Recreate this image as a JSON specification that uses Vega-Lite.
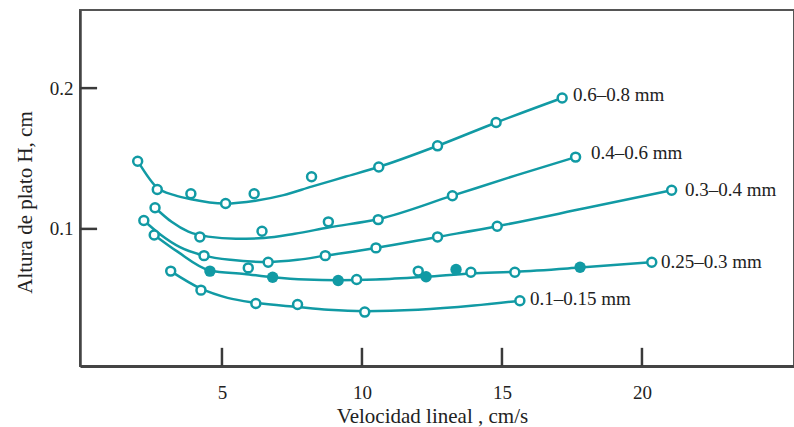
{
  "$schema": "https://vega.github.io/schema/vega-lite/v6.json",
  "width": 714,
  "height": 356,
  "autosize": {"type": "none"},
  "padding": {"left": 80, "top": 10, "right": 0, "bottom": 61},
  "background": "white",
  "config": {"view": {"stroke": "#555", "strokeWidth": 2}, "font": "Liberation Serif"},
  "datasets": {
    "curves": [
      {"s": "a", "x": 2.0, "y": 0.148}, {"s": "a", "x": 2.7, "y": 0.129}, {"s": "a", "x": 3.3, "y": 0.124}, {"s": "a", "x": 3.9, "y": 0.121}, {"s": "a", "x": 5.1, "y": 0.118}, {"s": "a", "x": 6.2, "y": 0.12}, {"s": "a", "x": 7.2, "y": 0.124}, {"s": "a", "x": 8.2, "y": 0.13}, {"s": "a", "x": 9.4, "y": 0.137}, {"s": "a", "x": 10.6, "y": 0.144}, {"s": "a", "x": 12.7, "y": 0.159}, {"s": "a", "x": 14.8, "y": 0.1756}, {"s": "a", "x": 17.15, "y": 0.193},
      {"s": "b", "x": 2.61, "y": 0.115}, {"s": "b", "x": 3.2, "y": 0.105}, {"s": "b", "x": 3.8, "y": 0.098}, {"s": "b", "x": 4.5, "y": 0.0945}, {"s": "b", "x": 5.5, "y": 0.093}, {"s": "b", "x": 6.5, "y": 0.0935}, {"s": "b", "x": 7.6, "y": 0.0965}, {"s": "b", "x": 8.8, "y": 0.101}, {"s": "b", "x": 10.6, "y": 0.107}, {"s": "b", "x": 13.23, "y": 0.1236}, {"s": "b", "x": 15.5, "y": 0.138}, {"s": "b", "x": 17.63, "y": 0.151},
      {"s": "c", "x": 2.21, "y": 0.106}, {"s": "c", "x": 2.8, "y": 0.096}, {"s": "c", "x": 3.5, "y": 0.087}, {"s": "c", "x": 4.36, "y": 0.081}, {"s": "c", "x": 5.3, "y": 0.078}, {"s": "c", "x": 6.65, "y": 0.0765}, {"s": "c", "x": 7.7, "y": 0.078}, {"s": "c", "x": 8.69, "y": 0.081}, {"s": "c", "x": 10.5, "y": 0.0865}, {"s": "c", "x": 12.7, "y": 0.0943}, {"s": "c", "x": 14.83, "y": 0.1019}, {"s": "c", "x": 18.0, "y": 0.1148}, {"s": "c", "x": 21.06, "y": 0.1274},
      {"s": "d", "x": 2.58, "y": 0.0957}, {"s": "d", "x": 3.4, "y": 0.084}, {"s": "d", "x": 4.57, "y": 0.0705}, {"s": "d", "x": 5.8, "y": 0.068}, {"s": "d", "x": 6.81, "y": 0.0657}, {"s": "d", "x": 8.0, "y": 0.064}, {"s": "d", "x": 9.15, "y": 0.0635}, {"s": "d", "x": 10.5, "y": 0.064}, {"s": "d", "x": 12.3, "y": 0.066}, {"s": "d", "x": 13.9, "y": 0.0683}, {"s": "d", "x": 15.46, "y": 0.0695}, {"s": "d", "x": 17.79, "y": 0.0725}, {"s": "d", "x": 20.35, "y": 0.0763},
      {"s": "e", "x": 3.17, "y": 0.07}, {"s": "e", "x": 4.25, "y": 0.0575}, {"s": "e", "x": 5.2, "y": 0.051}, {"s": "e", "x": 6.21, "y": 0.0475}, {"s": "e", "x": 7.7, "y": 0.0445}, {"s": "e", "x": 8.8, "y": 0.0425}, {"s": "e", "x": 10.1, "y": 0.0415}, {"s": "e", "x": 12.0, "y": 0.0425}, {"s": "e", "x": 14.0, "y": 0.0455}, {"s": "e", "x": 15.64, "y": 0.049}
    ],
    "points": [
      {"s": "a", "x": 1.99, "y": 0.148, "f": "open"}, {"s": "a", "x": 2.69, "y": 0.128, "f": "open"}, {"s": "a", "x": 3.89, "y": 0.125, "f": "open"}, {"s": "a", "x": 5.13, "y": 0.118, "f": "open"}, {"s": "a", "x": 6.15, "y": 0.125, "f": "open"}, {"s": "a", "x": 8.2, "y": 0.137, "f": "open"}, {"s": "a", "x": 10.6, "y": 0.144, "f": "open"}, {"s": "a", "x": 12.7, "y": 0.159, "f": "open"}, {"s": "a", "x": 14.79, "y": 0.1756, "f": "open"}, {"s": "a", "x": 17.15, "y": 0.193, "f": "open"},
      {"s": "b", "x": 2.61, "y": 0.115, "f": "open"}, {"s": "b", "x": 4.21, "y": 0.0943, "f": "open"}, {"s": "b", "x": 6.43, "y": 0.0983, "f": "open"}, {"s": "b", "x": 8.8, "y": 0.105, "f": "open"}, {"s": "b", "x": 10.58, "y": 0.1066, "f": "open"}, {"s": "b", "x": 13.23, "y": 0.1236, "f": "open"}, {"s": "b", "x": 17.63, "y": 0.151, "f": "open"},
      {"s": "c", "x": 2.21, "y": 0.106, "f": "open"}, {"s": "c", "x": 4.36, "y": 0.081, "f": "open"}, {"s": "c", "x": 6.65, "y": 0.0763, "f": "open"}, {"s": "c", "x": 8.69, "y": 0.081, "f": "open"}, {"s": "c", "x": 10.5, "y": 0.0865, "f": "open"}, {"s": "c", "x": 12.7, "y": 0.0943, "f": "open"}, {"s": "c", "x": 14.83, "y": 0.1019, "f": "open"}, {"s": "c", "x": 21.06, "y": 0.1274, "f": "open"},
      {"s": "d", "x": 2.58, "y": 0.0957, "f": "open"}, {"s": "d", "x": 4.57, "y": 0.07, "f": "filled"}, {"s": "d", "x": 5.94, "y": 0.0723, "f": "open"}, {"s": "d", "x": 6.81, "y": 0.0657, "f": "filled"}, {"s": "d", "x": 9.15, "y": 0.0633, "f": "filled"}, {"s": "d", "x": 9.81, "y": 0.064, "f": "open"}, {"s": "d", "x": 12.01, "y": 0.07, "f": "open"}, {"s": "d", "x": 12.29, "y": 0.066, "f": "filled"}, {"s": "d", "x": 13.36, "y": 0.0711, "f": "filled"}, {"s": "d", "x": 13.89, "y": 0.0692, "f": "open"}, {"s": "d", "x": 15.46, "y": 0.0692, "f": "open"}, {"s": "d", "x": 17.79, "y": 0.0728, "f": "filled"}, {"s": "d", "x": 20.35, "y": 0.0763, "f": "open"},
      {"s": "e", "x": 3.17, "y": 0.07, "f": "open"}, {"s": "e", "x": 4.25, "y": 0.0565, "f": "open"}, {"s": "e", "x": 6.21, "y": 0.047, "f": "open"}, {"s": "e", "x": 7.7, "y": 0.0463, "f": "open"}, {"s": "e", "x": 10.1, "y": 0.0409, "f": "open"}, {"s": "e", "x": 15.64, "y": 0.049, "f": "open"}
    ],
    "labels": [
      {"x": 17.54, "y": 0.1952, "label": "0.6–0.8 mm"},
      {"x": 18.18, "y": 0.1541, "label": "0.4–0.6 mm"},
      {"x": 21.54, "y": 0.1279, "label": "0.3–0.4 mm"},
      {"x": 20.68, "y": 0.0768, "label": "0.25–0.3 mm"},
      {"x": 16.0, "y": 0.0499, "label": "0.1–0.15 mm"}
    ],
    "tickx": [{"tv": 5}, {"tv": 10}, {"tv": 15}, {"tv": 20}],
    "ticky": [{"tv": 0.1}, {"tv": 0.2}]
  },
  "layer": [
    {
      "data": {"name": "curves"},
      "mark": {"type": "line", "interpolate": "monotone", "color": "#119aa4", "strokeWidth": 2.5},
      "encoding": {
        "x": {
          "field": "x", "type": "quantitative",
          "scale": {"domain": [-0.07, 25.43], "nice": false, "zero": false},
          "axis": {
            "values": [5, 10, 15, 20], "grid": false, "title": "Velocidad lineal , cm/s",
            "ticks": false, "labelPadding": 17,
            "domainWidth": 3, "domainColor": "#444",
            "labelFont": "Liberation Serif", "labelFontSize": 19, "labelColor": "#222",
            "titleFont": "Liberation Serif", "titleFontSize": 21, "titleFontWeight": "normal", "titleColor": "#222",
            "titleX": 352, "titleY": 56, "titleBaseline": "alphabetic", "titleAlign": "center"
          }
        },
        "y": {
          "field": "y", "type": "quantitative",
          "scale": {"domain": [0.0026, 0.2555], "nice": false, "zero": false},
          "axis": {
            "values": [0.1, 0.2], "format": ".1f", "grid": false, "title": "Altura de plato  H, cm",
            "ticks": false, "labelPadding": 7,
            "domainWidth": 2.5, "domainColor": "#444",
            "labelFont": "Liberation Serif", "labelFontSize": 19, "labelColor": "#222",
            "titleFont": "Liberation Serif", "titleFontSize": 21, "titleFontWeight": "normal", "titleColor": "#222",
            "titleX": -49, "titleY": 192, "titleBaseline": "alphabetic", "titleAlign": "center", "titleAngle": -90
          }
        },
        "detail": {"field": "s", "type": "nominal"}
      }
    },
    {
      "data": {"name": "points"},
      "transform": [{"filter": "datum.f == 'open'"}],
      "mark": {"type": "point", "shape": "circle", "filled": true, "fill": "white", "stroke": "#119aa4", "strokeWidth": 2.5, "size": 80, "opacity": 1},
      "encoding": {
        "x": {"field": "x", "type": "quantitative"},
        "y": {"field": "y", "type": "quantitative"}
      }
    },
    {
      "data": {"name": "points"},
      "transform": [{"filter": "datum.f == 'filled'"}],
      "mark": {"type": "point", "shape": "circle", "filled": true, "fill": "#119aa4", "size": 130, "opacity": 1},
      "encoding": {
        "x": {"field": "x", "type": "quantitative"},
        "y": {"field": "y", "type": "quantitative"}
      }
    },
    {
      "data": {"name": "labels"},
      "mark": {"type": "text", "align": "left", "baseline": "middle", "font": "Liberation Serif", "fontSize": 19, "color": "#222"},
      "encoding": {
        "x": {"field": "x", "type": "quantitative"},
        "y": {"field": "y", "type": "quantitative"},
        "text": {"field": "label", "type": "nominal"}
      }
    },
    {
      "data": {"name": "tickx"},
      "mark": {"type": "rule", "color": "#3a3a3a", "strokeWidth": 2.5, "opacity": 1},
      "encoding": {
        "x": {"field": "tv", "type": "quantitative"},
        "y": {"datum": 0.0026, "type": "quantitative"},
        "y2": {"datum": 0.0155}
      }
    },
    {
      "data": {"name": "ticky"},
      "mark": {"type": "rule", "color": "#3a3a3a", "strokeWidth": 2.5, "opacity": 1},
      "encoding": {
        "y": {"field": "tv", "type": "quantitative"},
        "x": {"datum": -0.07, "type": "quantitative"},
        "x2": {"datum": 0.54}
      }
    }
  ]
}
